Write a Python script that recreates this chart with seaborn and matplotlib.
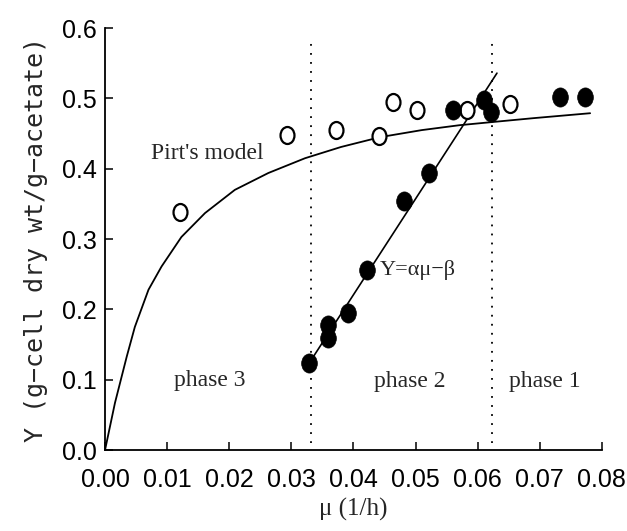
import numpy as np
import pandas as pd
import matplotlib
matplotlib.use("Agg")
import matplotlib.pyplot as plt
from matplotlib.path import Path
from matplotlib.transforms import Affine2D
import seaborn as sns

# Open circles (all yield data points)
open_mu = [0.0121, 0.0293, 0.0372, 0.0441, 0.0463, 0.0502, 0.0582, 0.0652]
open_y = [0.339, 0.448, 0.455, 0.447, 0.495, 0.484, 0.484, 0.492]

# Filled circles
filled_mu = [0.0329, 0.0359, 0.0359, 0.0391, 0.0421, 0.0481, 0.0522, 0.0560, 0.0610, 0.0621, 0.0733, 0.0773]
filled_y = [0.124, 0.159, 0.178, 0.195, 0.256, 0.354, 0.394, 0.484, 0.498, 0.481, 0.502, 0.502]

# Pirt's model curve
pirt_mu = [0.0, 0.0016, 0.0035, 0.0048, 0.0070, 0.0091, 0.0123, 0.0161, 0.0209, 0.0263,
           0.0322, 0.0380, 0.0443, 0.0510, 0.0571, 0.0630, 0.0690, 0.0781]
pirt_y = [0.0, 0.067, 0.133, 0.175, 0.228, 0.261, 0.303, 0.337, 0.370, 0.394,
          0.415, 0.431, 0.445, 0.455, 0.462, 0.467, 0.472, 0.479]

# Linear fit Y = alpha*mu - beta (end points)
lin_mu = [0.0329, 0.0631]
lin_y = [0.124, 0.536]

# Phase boundaries
phase_bounds = [0.0332, 0.0623]

xticks = [0.00, 0.01, 0.02, 0.03, 0.04, 0.05, 0.06, 0.07, 0.08]
yticks = [0.0, 0.1, 0.2, 0.3, 0.4, 0.5, 0.6]

sns.set_theme(style="ticks")
plt.rcParams["font.family"] = ["Liberation Sans", "DejaVu Sans"]

fig = plt.figure(figsize=(6.27, 5.31), dpi=100)
ax = fig.add_axes([0.1675, 0.1525, 0.7925, 0.7945])

ellipse = Path.unit_circle().transformed(Affine2D().scale(0.82, 1.0))

df_curve = pd.DataFrame({"mu": pirt_mu, "Y": pirt_y})
df_lin = pd.DataFrame({"mu": lin_mu, "Y": lin_y})
df_open = pd.DataFrame({"mu": open_mu, "Y": open_y})
df_filled = pd.DataFrame({"mu": filled_mu, "Y": filled_y})

sns.lineplot(data=df_curve, x="mu", y="Y", ax=ax, color="black", lw=1.3, sort=True)
sns.lineplot(data=df_lin, x="mu", y="Y", ax=ax, color="black", lw=1.2)

for xb in phase_bounds:
    ax.plot([xb, xb], [0.01, 0.582], color="black", lw=1.3, linestyle=(0, (1, 4)))

sns.scatterplot(data=df_open, x="mu", y="Y", ax=ax, marker=ellipse, s=150,
                facecolor="white", edgecolor="black", linewidth=1.6, zorder=5)
sns.scatterplot(data=df_filled, x="mu", y="Y", ax=ax, marker=ellipse, s=190,
                color="black", edgecolor="black", linewidth=0.5, zorder=6)

serif = ["Liberation Serif", "DejaVu Serif"]
ax.text(0.0074, 0.422, "Pirt's model", fontsize=17, family=serif, va="center", ha="left")
ax.text(0.0442, 0.256, "Y=αμ−β", fontsize=16, family=serif, va="center", ha="left")
ax.text(0.0169, 0.099, "phase 3", fontsize=17, family=serif, va="center", ha="center")
ax.text(0.0491, 0.097, "phase 2", fontsize=17, family=serif, va="center", ha="center")
ax.text(0.0708, 0.097, "phase 1", fontsize=17, family=serif, va="center", ha="center")

ax.set_xlim(0, 0.08)
ax.set_ylim(0, 0.6)
ax.set_xticks(xticks)
ax.set_xticklabels([f"{t:.2f}" for t in xticks])
ax.set_yticks(yticks)
ax.set_yticklabels([f"{t:.1f}" for t in yticks])
ax.tick_params(axis="both", direction="in", length=6, width=1.1, labelsize=18, colors="black")
ax.tick_params(axis="x", pad=13)
ax.tick_params(axis="y", pad=6)
for lab in ax.get_xticklabels() + ax.get_yticklabels():
    lab.set_color("black")

sns.despine(ax=ax)
for sp in ["left", "bottom"]:
    ax.spines[sp].set_color("black")
    ax.spines[sp].set_linewidth(1.3)

ax.set_xlabel("μ (1/h)", fontsize=18, family=serif, labelpad=4)
ax.set_ylabel("Y (g−cell dry wt/g−acetate)", fontsize=18,
              family=["DejaVu Sans Mono", "Liberation Mono"], labelpad=10)
ax.set_facecolor("white")
fig.patch.set_facecolor("white")

fig.savefig("out.png", dpi=100, facecolor="white")
